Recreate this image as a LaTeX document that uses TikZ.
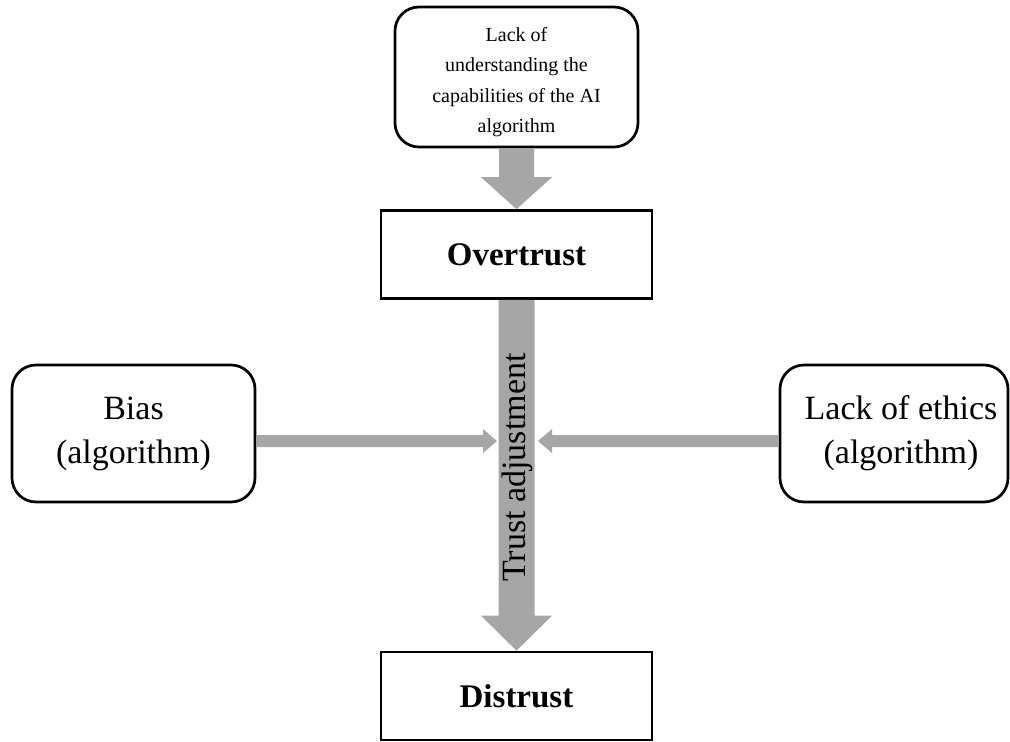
\documentclass[tikz,border=0pt]{standalone}
\usepackage{fontspec}
\setmainfont{Liberation Serif}
\usetikzlibrary{calc}

\definecolor{arrowgray}{HTML}{A6A6A6}

\tikzset{
  roundbox/.style={draw=black, line width=2.7pt, rounded corners=24pt, fill=white,
    align=center, inner sep=0pt},
  plainbox/.style={draw=black, line width=2.7pt, fill=white, align=center, inner sep=0pt},
  boxtext/.style={align=center, inner sep=0pt},
  arrowfill/.style={fill=arrowgray, draw=none},
}

% Thick downward block arrow: start, tip, half shaft width, half head width, head length
\newcommand{\vBlockArrow}[5]{%
  \fill[arrowfill] let \p1=(#1), \p2=(#2) in
    (\x1-#3,\y1) -- (\x1-#3,\y2+#5) -- (\x1-#4,\y2+#5) -- (\x1,\y2)
    -- (\x1+#4,\y2+#5) -- (\x1+#3,\y2+#5) -- (\x1+#3,\y1) -- cycle;}
% Horizontal block arrow: start, tip, half shaft width, half head width, head length (signed)
\newcommand{\hBlockArrow}[5]{%
  \fill[arrowfill] let \p1=(#1), \p2=(#2) in
    (\x1,\y2+#3) -- (\x2-#5,\y2+#3) -- (\x2-#5,\y2+#4) -- (\x2,\y2)
    -- (\x2-#5,\y2-#4) -- (\x2-#5,\y2-#3) -- (\x1,\y2-#3) -- cycle;}

\begin{document}
\begin{tikzpicture}[x=1pt, y=-1pt]
  \useasboundingbox (0,0) rectangle (1010,742);

  % boxes
  \node[roundbox, minimum width=243pt, minimum height=140pt] (cause) at (516.5,77) {};
  \node[boxtext, font=\fontsize{20}{30.3}\selectfont] (causetext) at ($(cause.center)+(0,5)$)
    {Lack of\\understanding the\\capabilities of the AI\\algorithm};
  \node[plainbox, minimum width=271pt, minimum height=88pt,
        font=\fontsize{33}{40}\selectfont\bfseries] (over) at (516.5,254.5) {Overtrust};
  \node[plainbox, minimum width=271pt, minimum height=88pt,
        font=\fontsize{33}{40}\selectfont\bfseries] (dist) at (516.5,696) {Distrust};
  \node[roundbox, minimum width=243pt, minimum height=137pt,
        font=\fontsize{34}{44}\selectfont] (bias) at (133.5,433.5) {Bias\\(algorithm)};
  \node[roundbox, minimum width=228pt, minimum height=137pt] (ethics) at (894,433.5) {};
  \node[boxtext, font=\fontsize{34}{44}\selectfont] (ethicstext) at ($(ethics.center)+(7,0)$)
    {Lack of ethics\\(algorithm)};

  % arrow tips of the side arrows
  \coordinate (tipL) at (497,441);
  \coordinate (tipR) at (538,441);

  % block arrows
  \vBlockArrow{cause.south}{over.north}{17.5pt}{35.5pt}{32pt}
  \vBlockArrow{over.south}{dist.north}{18pt}{35.5pt}{35pt}
  \hBlockArrow{bias.east}{tipL}{6pt}{12pt}{14pt}
  \hBlockArrow{ethics.west}{tipR}{6pt}{12pt}{-14pt}

  % label along the central arrow
  \node[rotate=90, font=\fontsize{34}{40}\selectfont, inner sep=0pt] (adj) at (517,467.5)
    {Trust adjustment};
\end{tikzpicture}
\end{document}
